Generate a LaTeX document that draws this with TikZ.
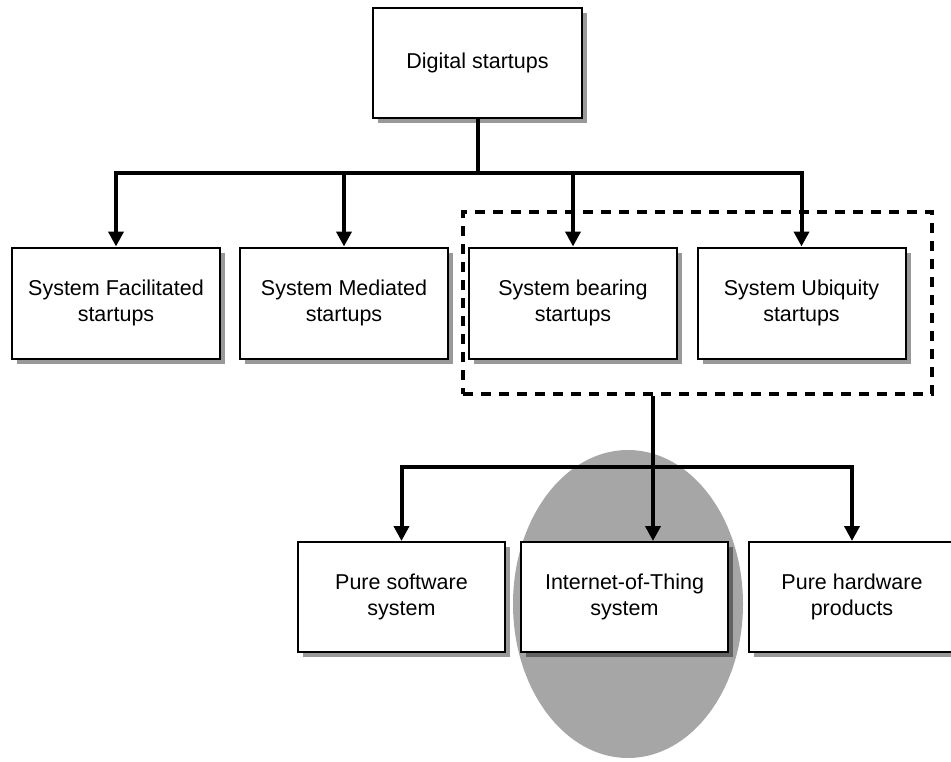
\documentclass[tikz,border=0pt]{standalone}
\usepackage{fontspec}
\setmainfont{Liberation Sans}
\usetikzlibrary{arrows.meta,shadows}
\begin{document}
\begin{tikzpicture}[x=1pt,y=-1pt,
  box/.style={draw, line width=2pt, fill=white, minimum width=208pt,
    minimum height=111pt, align=center, inner sep=2pt,
    font=\fontsize{21.5}{26}\selectfont,
    drop shadow={shadow xshift=5pt, shadow yshift=-5pt, fill=black, opacity=0.4}},
  link/.style={line width=4pt},
  arr/.style={link, -{Triangle[length=15pt,width=15pt]}},
  group/.style={draw, line width=4pt, dash pattern=on 10pt off 8pt}]
\useasboundingbox (0,0) rectangle (951,761);

% highlight behind the IoT category
\fill[black!35] (628,604) ellipse [x radius=115, y radius=154];

% top level
\node[box, minimum width=209pt, minimum height=110pt] (top) at (477.5,63) {Digital startups};

% second level
\node[box] (sf) at (116,303)   {System Facilitated\\startups};
\node[box] (sm) at (344,303)   {System Mediated\\startups};
\node[box] (sb) at (573,303)   {System bearing\\startups};
\node[box] (su) at (801.5,303) {System Ubiquity\\startups};

% dashed group around bearing + ubiquity
\node[group, minimum width=469pt, minimum height=182pt] (grp) at (697.5,303) {};

% third level
\node[box, minimum width=207pt, minimum height=110pt] (sw)  at (401.5,597) {Pure software\\system};
\node[box, minimum width=207pt, minimum height=110pt] (iot) at (624.5,597) {Internet-of-Thing\\system};
\node[box, minimum width=207pt, minimum height=110pt] (hw)  at (852,597)   {Pure hardware\\products};

% connectors, level 1 -> 2
\coordinate (hub) at (477.5,173);
\draw[link] (top.south) -- (hub);
\draw[arr] (hub) -| (sf.north);
\draw[arr] (hub) -| (sm.north);
\draw[arr] (hub) -| (sb.north);
\draw[arr] (hub) -| (su.north);

% connectors, group -> level 3
\coordinate (hub2) at (653,467);
\draw[arr] (grp.south -| hub2) -- (hub2 |- iot.north);
\draw[arr] (hub2) -| (sw.north);
\draw[arr] (hub2) -| (hw.north);
\end{tikzpicture}
\end{document}
